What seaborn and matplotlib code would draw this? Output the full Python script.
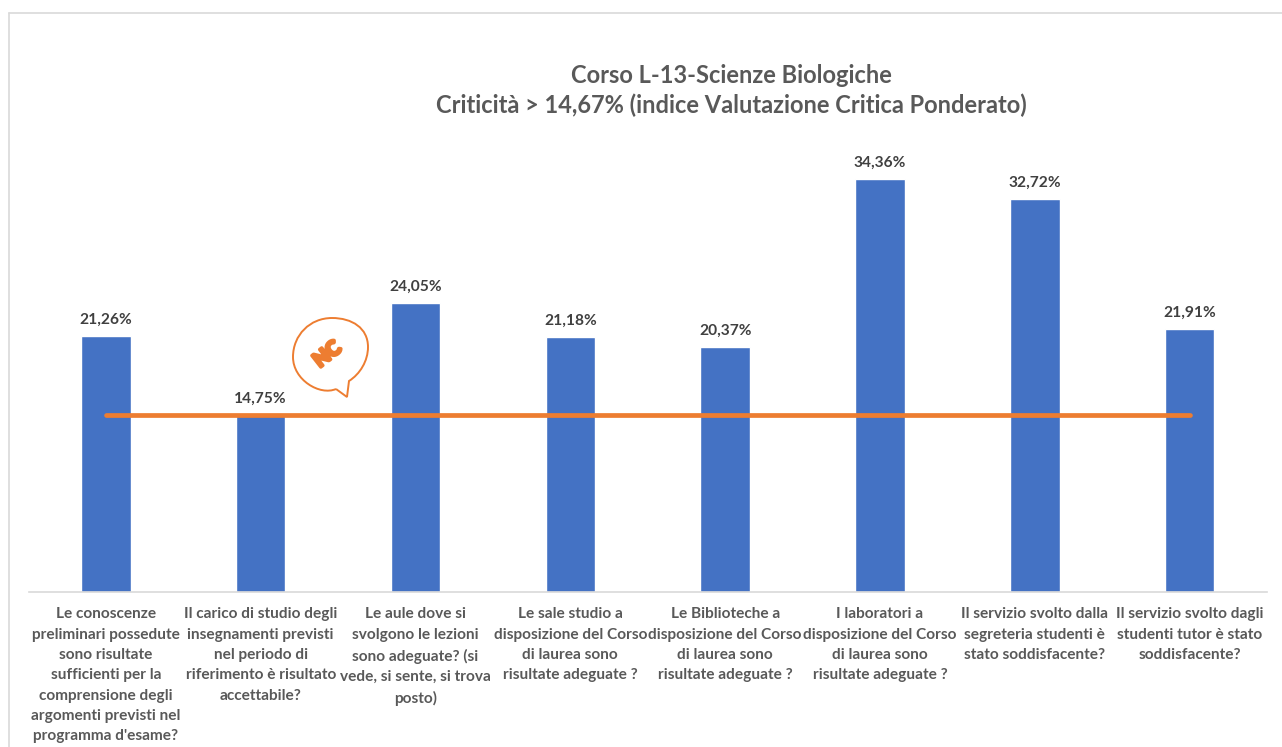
import matplotlib
matplotlib.use("Agg")
import matplotlib.pyplot as plt
import matplotlib.patheffects as pe
import seaborn as sns
from matplotlib.lines import Line2D
from matplotlib.path import Path
from matplotlib.patches import PathPatch

questions = [
    "Le conoscenze\npreliminari possedute\nsono risultate\nsufficienti per la\ncomprensione degli\nargomenti previsti nel\nprogramma d'esame?",
    "Il carico di studio degli\ninsegnamenti previsti\nnel periodo di\nriferimento è risultato\naccettabile?",
    "Le aule dove si\nsvolgono le lezioni\nsono adeguate? (si\nvede, si sente, si trova\nposto)",
    "Le sale studio a\ndisposizione del Corso\ndi laurea sono\nrisultate adeguate ?",
    "Le Biblioteche a\ndisposizione del Corso\ndi laurea sono\nrisultate adeguate ?",
    "I laboratori a\ndisposizione del Corso\ndi laurea sono\nrisultate adeguate ?",
    "Il servizio svolto dalla\nsegreteria studenti è\nstato soddisfacente?",
    "Il servizio svolto dagli\nstudenti tutor è stato\nsoddisfacente?",
]
criticita = [21.26, 14.75, 24.05, 21.18, 20.37, 34.36, 32.72, 21.91]
soglia = [14.67] * 8

title_text = "Corso L-13-Scienze Biologiche\nCriticità > 14,67% (indice Valutazione Critica Ponderato)"

W, H = 1282, 747
BLUE = "#4472C4"
ORANGE = "#ED7D31"
GREY = "#595959"

sns.set_theme(style="white")
plt.rcParams["font.family"] = ["Lato", "DejaVu Sans"]

fig = plt.figure(figsize=(W / 100, H / 100), dpi=100, facecolor="white")

# axes placed in pixels: baseline at y=591, 40 units tall
top_px = 591.5 - 40 * 12.0
ax = fig.add_axes([28.5 / W, 1 - 591.5 / H, 1238.5 / W, (591.5 - top_px) / H])

sns.barplot(x=questions, y=criticita, color=BLUE, width=0.32, saturation=1, ax=ax)
sns.lineplot(x=list(range(8)), y=soglia, color=ORANGE, linewidth=3.4, ax=ax, zorder=5,
             solid_capstyle="round")

labels = [f"{v:.2f}%".replace(".", ",") for v in criticita]
ax.bar_label(ax.containers[0], labels=labels, padding=6.6, fontsize=11.2,
             fontweight="bold", color="#404040")

ax.set_ylim(0, 40)
ax.set_xlim(-0.5, 7.5)
ax.set_yticks([])
ax.set_ylabel("")
for side in ["top", "left", "right"]:
    ax.spines[side].set_visible(False)
ax.spines["bottom"].set_color("#D9D9D9")
ax.spines["bottom"].set_linewidth(1.2)
ax.tick_params(axis="x", length=0, pad=11.5)
for lab in ax.get_xticklabels():
    lab.set_fontsize(11.1)
    lab.set_fontweight("bold")
    lab.set_color(GREY)
    lab.set_linespacing(1.57)
    lab.set_ha("center")

fig.text(731 / W, 1 - 90.5 / H, title_text, ha="center", va="center", fontsize=17,
         fontweight="bold", color=GREY, linespacing=1.3)

# chart frame, left and top edges only
fig.add_artist(Line2D([9 / W, 9 / W], [0, 1 - 13 / H], color="#D9D9D9", linewidth=1.2))
fig.add_artist(Line2D([9 / W, 1], [1 - 13 / H, 1 - 13 / H], color="#D9D9D9", linewidth=1.2))

# speech bubble stamp, drawn on an overlay in pixel coordinates
over = fig.add_axes([0, 0, 1, 1], facecolor="none")
over.set_xlim(0, W)
over.set_ylim(H, 0)
over.axis("off")
verts = [
    (336, 389),
    (320, 396), (293, 380), (293, 357),
    (293, 335), (310, 318), (332, 318),
    (352, 318), (368, 328), (368, 347),
    (368, 361), (360, 374), (349, 381),
    (347, 397),
    (336, 389),
]
codes = [Path.MOVETO] + [Path.CURVE4] * 12 + [Path.LINETO, Path.LINETO]
over.add_patch(PathPatch(Path(verts, codes), facecolor="none", edgecolor=ORANGE, linewidth=1.4))
over.text(327, 354, "NC", rotation=38, ha="center", va="center", fontsize=14.5,
          fontweight="black", color=ORANGE,
          path_effects=[pe.withStroke(linewidth=2.4, foreground=ORANGE)])

fig.savefig("out.png", dpi=100)
